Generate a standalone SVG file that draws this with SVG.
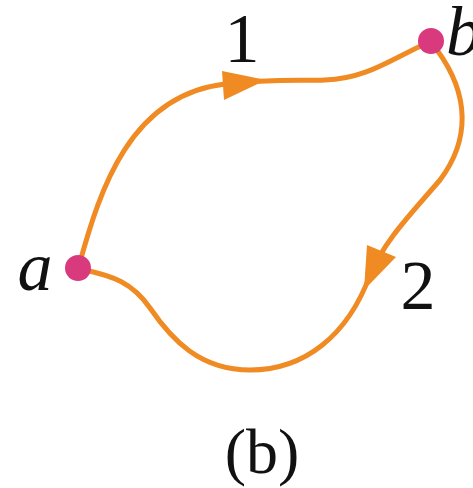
<svg xmlns="http://www.w3.org/2000/svg" width="473" height="488" viewBox="0 0 473 488">
<style>
.path{fill:none;stroke:#F08A22;stroke-width:5;stroke-linecap:round}
.arrow{fill:#F08A22}
.dot{fill:#D93A7E}
.lbl{font-family:"Liberation Serif",serif;font-size:70px;fill:#111}
.it{font-style:italic}
</style>
<g id="connectors">
<path class="path" d="M 80,262 C 100,190 130,95 225,84 C 270,79 300,81 325,80 C 365,79 390,60 425,44"/>
<polygon class="arrow" points="266,80 222,71 224,100"/>
<path class="path" d="M 437,50 C 470,95 470,140 440,180 C 410,215 385,240 370,275 C 348,335 305,370 250,370 C 200,370 172,340 150,308 C 132,282 112,276 85,270"/>
<polygon class="arrow" points="364,290 367,245 396,257"/>
</g>
<g id="node-a">
<circle class="dot" cx="78" cy="268" r="13"/>
<text class="lbl it" x="35" y="290" text-anchor="middle">a</text>
</g>
<g id="node-b">
<circle class="dot" cx="431" cy="41" r="13"/>
<text class="lbl it" x="446" y="55">b</text>
</g>
<g id="labels">
<text class="lbl" x="242" y="62" text-anchor="middle">1</text>
<text class="lbl" x="418" y="309" text-anchor="middle">2</text>
<text class="lbl" x="262" y="473" text-anchor="middle" style="font-size:64px">(b)</text>
</g>
</svg>
